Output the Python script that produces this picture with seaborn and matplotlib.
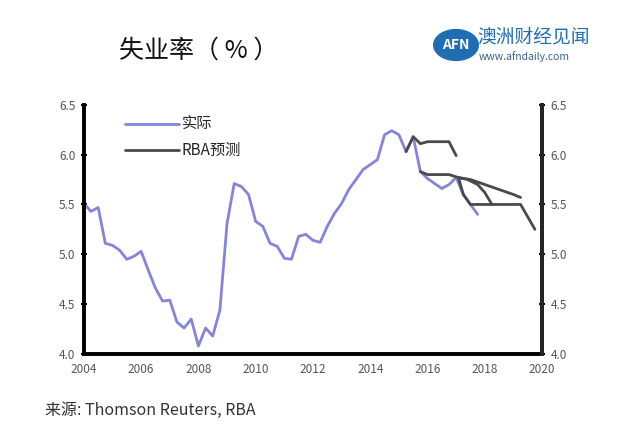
import numpy as np
import pandas as pd
import matplotlib
matplotlib.use("Agg")
import matplotlib.pyplot as plt
import seaborn as sns
from matplotlib.patches import Circle

sns.set_style("white")
plt.rcParams['font.family'] = ['Noto Sans CJK SC', 'DejaVu Sans']

# ---- data ----
actual_t = [2004.0 + 0.25 * i for i in range(56)]
actual_v = [5.51, 5.43, 5.47, 5.11, 5.09, 5.04, 4.95, 4.98, 5.03, 4.84, 4.66, 4.53,
            4.54, 4.32, 4.26, 4.35, 4.08, 4.26, 4.18, 4.44, 5.31, 5.71, 5.68, 5.60,
            5.33, 5.28, 5.11, 5.08, 4.96, 4.95, 5.18, 5.20, 5.14, 5.12, 5.28, 5.41,
            5.51, 5.65, 5.75, 5.85, 5.90, 5.95, 6.20, 6.24, 6.20, 6.03, 6.18, 5.83,
            5.76, 5.71, 5.66, 5.70, 5.77, 5.60, 5.50, 5.40]

f1_t = [2015.25, 2015.5, 2015.75, 2016.0, 2016.75, 2017.0]
f1_v = [6.03, 6.18, 6.11, 6.13, 6.13, 5.99]
f2_t = [2015.75, 2016.0, 2016.75, 2017.08, 2017.4, 2017.75, 2018.0, 2018.25]
f2_v = [5.83, 5.80, 5.80, 5.77, 5.75, 5.70, 5.62, 5.50]
f3_t = [2017.08, 2017.5, 2018.0, 2018.5, 2019.0, 2019.25]
f3_v = [5.77, 5.75, 5.70, 5.65, 5.60, 5.57]
f4_t = [2017.08, 2017.25, 2017.5, 2019.25, 2019.75]
f4_v = [5.77, 5.60, 5.50, 5.50, 5.25]

yticks = [4.0, 4.5, 5.0, 5.5, 6.0, 6.5]
xlabels = [2004, 2006, 2008, 2010, 2012, 2014, 2016, 2018, 2020]

blue = '#8484dc'
gray = '#4a4a4a'

fig = plt.figure(figsize=(6.4, 4.48), dpi=100)
ax = fig.add_axes([0.131, 0.21, 0.716, 0.556])

sns.lineplot(x=actual_t, y=actual_v, ax=ax, color=blue, lw=2.0, label='实际')
first = True
for t, v in [(f1_t, f1_v), (f2_t, f2_v), (f3_t, f3_v), (f4_t, f4_v)]:
    sns.lineplot(x=t, y=v, ax=ax, color=gray, lw=2.0,
                 label='RBA预测' if first else None)
    first = False

ax.set_xlim(2004, 2020)
ax.set_ylim(4.0, 6.5)
ax.set_yticks(yticks)
ax.set_yticklabels([f'{y:.1f}' for y in yticks])
ax.set_xticks(range(2004, 2021))
ax.set_xticklabels([str(y) if y in xlabels else '' for y in range(2004, 2021)])

for s in ['left', 'bottom', 'right']:
    ax.spines[s].set_visible(True)
    ax.spines[s].set_linewidth(2.8)
    ax.spines[s].set_color('black')
ax.spines['top'].set_visible(False)

ax.tick_params(axis='both', direction='inout', length=5, width=1.5, colors='black',
               labelcolor='#555555', labelsize=8.5)
ax.tick_params(axis='x', pad=4)

ax2 = ax.twinx()
ax2.set_ylim(4.0, 6.5)
ax2.set_yticks(yticks)
ax2.set_yticklabels([f'{y:.1f}' for y in yticks])
ax2.tick_params(axis='y', direction='inout', length=5, width=1.5, colors='black',
                labelcolor='#555555', labelsize=8.5)
for s in ['left', 'top', 'bottom']:
    ax2.spines[s].set_visible(False)
ax2.spines['right'].set_linewidth(2.8)

leg = ax.legend(loc='upper left', bbox_to_anchor=(0.06, 1.01), frameon=False,
                fontsize=11, handlelength=3.5, handletextpad=0.2, labelspacing=0.6)

# title
fig.text(0.186, 0.887, '失业率（ % ）', fontsize=18, color='#111111', va='center',
         ha='left', fontweight='medium')

# logo
circ = Circle((456 / 640, 1 - 45 / 448), 0.036, transform=fig.transFigure,
              facecolor='#1f6db3', edgecolor='none')
fig.patches.append(circ)
fig.text(456 / 640, 1 - 45 / 448, 'AFN', fontsize=10, color='white', ha='center',
         va='center', fontweight='bold')
fig.text(477 / 640, 1 - 37 / 448, '澳洲财经见闻', fontsize=13.5, color='#1f6db3',
         ha='left', va='center', fontweight='medium')
fig.text(479 / 640, 1 - 57 / 448, 'www.afndaily.com', fontsize=7.5, color='#3a5f8a',
         ha='left', va='center')

# source
fig.text(45 / 640, 1 - 410 / 448, '来源: Thomson Reuters, RBA', fontsize=11.5,
         color='#333333', ha='left', va='center')

fig.savefig('out.png', dpi=100)
